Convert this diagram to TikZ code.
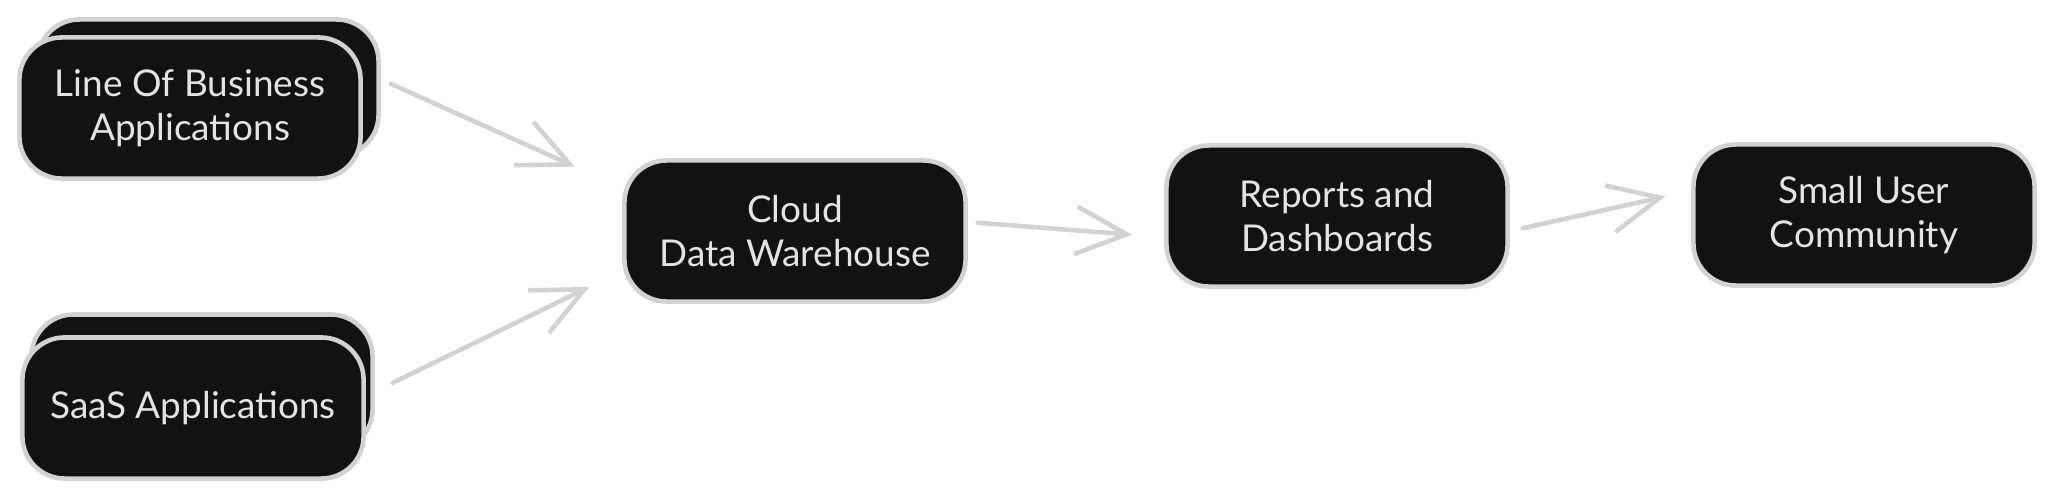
\documentclass[tikz,border=0pt]{standalone}
\usepackage{fontspec}
\setmainfont{Lato}
\usepackage{tikz}
\usetikzlibrary{arrows.meta}
\definecolor{box_fill}{RGB}{18,18,18}
\definecolor{edge_gray}{RGB}{210,210,210}
\definecolor{text_gray}{RGB}{228,228,228}

\begin{document}
\begin{tikzpicture}[x=0.01cm,y=-0.01cm,>={Straight Barb[angle=50:16pt]}]
    \tikzstyle{box}=[draw=edge_gray, line width=1.3pt, fill=box_fill, rounded corners=12pt, minimum width=3.41cm, minimum height=1.41cm, text=text_gray, align=center, font=\fontsize{10.5}{12.5}\selectfont]
    \tikzstyle{back}=[style=box, minimum height=1.37cm]
    \tikzstyle{flow}=[->, color=edge_gray, line width=1.3pt, line cap=round]

    \useasboundingbox (0,0) rectangle (2055,497);

    \node[back] (lobback)  at (208,88)   {};
    \node[box]  (lob)      at (190,108)  {Line Of Business\\Applications};
    \node[back] (saasback) at (202,383)  {};
    \node[box]  (saas)     at (193,408)  {SaaS Applications};
    \node[box]  (cdw)      at (795,231)  {Cloud\\Data Warehouse};
    \node[box]  (reports)  at (1337,216) {Reports and\\Dashboards};
    \node[box]  (users)    at (1864,215) {Small User\\Community};

    \path[flow]
     (lob.12)     edge[shorten <=8.7pt, shorten >=14.7pt] (cdw.166)
     (saas.4)     edge[shorten <=8.5pt, shorten >=10.4pt] (cdw.193)
     (cdw.3)      edge[shorten <=2.8pt, shorten >=9.1pt]  (reports.187)
     (reports.-5) edge[shorten <=3.7pt, shorten >=7.5pt]  (users.172)
     ;
\end{tikzpicture}
\end{document}
